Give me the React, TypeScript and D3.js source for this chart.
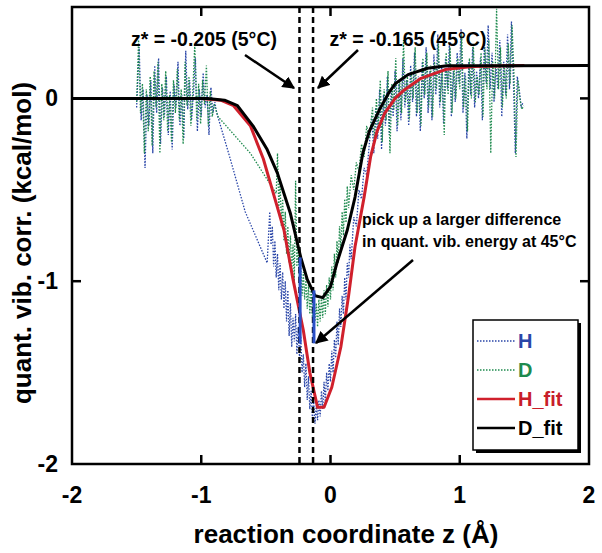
import React from "react";
import * as d3 from "d3";

type P = [number, number];

// reaction coordinate z (Å), quantized vibrational correction (kcal/mol)
const hData: P[] = [
  [-1.5, -0.05], [-1.48, 0.28], [-1.465, -0.12], [-1.45, 0.05], [-1.435, -0.38], [-1.42, 0.02],
  [-1.405, -0.15], [-1.39, 0.1], [-1.375, -0.3], [-1.36, 0.18], [-1.345, -0.08], [-1.33, 0.22],
  [-1.315, -0.25], [-1.3, 0.06], [-1.285, -0.1], [-1.27, 0.12], [-1.255, -0.2], [-1.24, 0.04],
  [-1.225, -0.28], [-1.21, 0.08], [-1.195, -0.05], [-1.18, 0.2], [-1.165, -0.15], [-1.15, 0.02],
  [-1.135, -0.22], [-1.12, 0.26], [-1.105, -0.06], [-1.09, 0.1], [-1.075, -0.12], [-1.06, 0.03],
  [-1.045, 0.22], [-1.03, -0.18], [-1.015, 0.05], [-1.0, -0.1], [-0.985, 0.14], [-0.97, -0.05],
  [-0.955, 0.02], [-0.94, -0.2], [-0.925, 0.06], [-0.91, -0.08], [-0.895, -0.02],
  [-0.88, -0.08], [-0.78, -0.32], [-0.66, -0.62], [-0.49, -0.9],
  [-0.47, -0.62], [-0.46, -0.8], [-0.45, -0.7], [-0.44, -0.92], [-0.43, -0.78], [-0.42, -0.98],
  [-0.41, -0.85], [-0.4, -1.05], [-0.39, -0.9], [-0.38, -1.1], [-0.37, -0.95], [-0.36, -1.15],
  [-0.35, -1.0], [-0.34, -1.22], [-0.33, -1.05], [-0.32, -1.3], [-0.31, -1.12], [-0.3, -1.36],
  [-0.29, -1.2], [-0.28, -1.33], [-0.27, -1.18], [-0.26, -1.4], [-0.25, -1.25], [-0.24, -1.42],
  [-0.23, -1.3], [-0.22, -1.5], [-0.21, -1.4], [-0.2, -1.58], [-0.19, -1.45], [-0.18, -1.65],
  [-0.17, -1.52], [-0.16, -1.7], [-0.15, -1.6], [-0.14, -1.75], [-0.13, -1.66], [-0.12, -1.78],
  [-0.11, -1.68], [-0.1, -1.76], [-0.09, -1.65], [-0.08, -1.74], [-0.07, -1.6], [-0.06, -1.7],
  [-0.05, -1.55], [-0.04, -1.66], [-0.03, -1.5], [-0.02, -1.6], [-0.01, -1.45], [0.0, -1.55],
  [0.01, -1.38], [0.02, -1.5], [0.03, -1.32], [0.04, -1.42], [0.05, -1.22], [0.06, -1.35],
  [0.07, -1.15], [0.08, -1.25], [0.09, -1.08], [0.1, -1.18], [0.11, -0.98], [0.12, -1.1],
  [0.13, -0.9], [0.14, -0.98], [0.15, -0.8], [0.16, -0.88], [0.18, -0.65], [0.2, -0.7],
  [0.22, -0.5], [0.24, -0.55], [0.26, -0.38], [0.28, -0.42], [0.3, -0.25],
  [0.32, -0.1], [0.335, -0.3], [0.35, -0.05], [0.365, -0.22], [0.38, 0.05], [0.395, -0.28],
  [0.41, 0.02], [0.425, -0.15], [0.44, 0.12], [0.455, -0.2], [0.47, 0.05], [0.485, -0.1],
  [0.5, 0.15], [0.515, -0.18], [0.53, 0.08], [0.545, -0.12], [0.56, 0.22], [0.575, -0.05],
  [0.59, 0.1], [0.605, -0.15], [0.62, 0.18], [0.635, -0.02], [0.65, 0.25], [0.665, -0.1],
  [0.68, 0.12], [0.695, -0.18], [0.71, 0.2], [0.725, 0.0], [0.74, 0.28], [0.755, -0.08],
  [0.77, 0.15], [0.785, -0.12], [0.8, 0.24], [0.815, 0.02], [0.83, 0.35], [0.845, -0.05],
  [0.86, 0.18], [0.875, -0.14], [0.89, 0.22], [0.905, 0.05], [0.92, 0.3], [0.935, -0.1],
  [0.95, 0.15], [0.965, -0.02], [0.98, 0.25], [0.995, 0.08], [1.01, 0.38], [1.025, -0.08],
  [1.04, 0.14], [1.055, -0.22], [1.07, 0.2], [1.085, 0.02], [1.1, 0.28], [1.115, -0.05],
  [1.13, 0.15], [1.145, 0.0], [1.16, 0.22], [1.175, -0.12], [1.19, 0.3], [1.205, 0.08],
  [1.22, 0.4], [1.235, 0.05], [1.25, 0.25], [1.265, -0.02], [1.28, 0.18], [1.295, 0.05],
  [1.31, 0.32], [1.325, -0.1], [1.34, 0.2], [1.355, 0.02], [1.37, 0.35], [1.385, 0.05],
  [1.4, 0.42], [1.415, 0.1], [1.43, -0.3], [1.445, 0.12], [1.46, 0.05], [1.475, -0.05], [1.49, -0.02],
];

const dData: P[] = [
  [-1.5, -0.02], [-1.485, 0.32], [-1.47, -0.08], [-1.455, 0.08], [-1.44, -0.3], [-1.425, 0.05],
  [-1.41, -0.18], [-1.395, 0.12], [-1.38, -0.26], [-1.365, 0.15], [-1.35, -0.05], [-1.335, 0.2],
  [-1.32, -0.3], [-1.305, 0.08], [-1.29, -0.12], [-1.275, 0.15], [-1.26, -0.18], [-1.245, 0.02],
  [-1.23, -0.24], [-1.215, 0.1], [-1.2, -0.08], [-1.185, 0.16], [-1.17, -0.12], [-1.155, 0.05],
  [-1.14, -0.25], [-1.125, 0.2], [-1.11, -0.04], [-1.095, 0.12], [-1.08, -0.15], [-1.065, 0.05],
  [-1.05, 0.3], [-1.035, -0.12], [-1.02, 0.08], [-1.005, -0.14], [-0.99, 0.1], [-0.975, -0.03],
  [-0.96, 0.18], [-0.945, -0.15], [-0.93, 0.04], [-0.915, -0.1], [-0.9, -0.03],
  [-0.87, -0.1], [-0.62, -0.3], [-0.42, -0.52],
  [-0.41, -0.3], [-0.4, -0.6], [-0.39, -0.45], [-0.38, -0.7], [-0.37, -0.55], [-0.36, -0.78],
  [-0.35, -0.62], [-0.34, -0.85], [-0.33, -0.7], [-0.32, -0.9], [-0.31, -0.75], [-0.3, -0.95],
  [-0.29, -0.8], [-0.28, -1.0], [-0.27, -0.45], [-0.26, -0.92], [-0.25, -0.82], [-0.24, -1.02],
  [-0.23, -0.9], [-0.22, -1.08], [-0.21, -0.95], [-0.2, -1.1], [-0.19, -0.98], [-0.18, -1.15],
  [-0.17, -1.02], [-0.16, -1.18], [-0.15, -1.05], [-0.14, -1.2], [-0.13, -1.08], [-0.12, -1.22],
  [-0.11, -1.12], [-0.1, -1.25], [-0.09, -1.1], [-0.08, -1.22], [-0.07, -1.08], [-0.06, -1.2],
  [-0.05, -1.05], [-0.04, -1.18], [-0.03, -1.02], [-0.02, -1.14], [-0.01, -0.98], [0.0, -1.1],
  [0.01, -0.92], [0.02, -1.05], [0.03, -0.85], [0.04, -0.98], [0.05, -0.78], [0.06, -0.9],
  [0.07, -0.7], [0.08, -0.82], [0.09, -0.62], [0.1, -0.75], [0.11, -0.55], [0.12, -0.68],
  [0.13, -0.48], [0.14, -0.6], [0.16, -0.42], [0.18, -0.5], [0.2, -0.35], [0.22, -0.4],
  [0.24, -0.25], [0.26, -0.32], [0.28, -0.15], [0.3, -0.22],
  [0.325, -0.05], [0.34, -0.25], [0.355, 0.0], [0.37, -0.18], [0.385, 0.1], [0.4, -0.24],
  [0.415, 0.05], [0.43, -0.12], [0.445, 0.15], [0.46, -0.3], [0.475, 0.08], [0.49, -0.06],
  [0.505, 0.22], [0.52, -0.15], [0.535, 0.1], [0.55, -0.08], [0.565, 0.32], [0.58, -0.02],
  [0.595, 0.12], [0.61, -0.12], [0.625, 0.15], [0.64, 0.0], [0.655, 0.28], [0.67, -0.08],
  [0.685, 0.1], [0.7, -0.15], [0.715, 0.22], [0.73, 0.02], [0.745, 0.25], [0.76, -0.05],
  [0.775, 0.18], [0.79, -0.1], [0.805, 0.2], [0.82, 0.05], [0.835, 0.3], [0.85, -0.02],
  [0.865, 0.15], [0.88, -0.2], [0.895, 0.25], [0.91, 0.02], [0.925, 0.28], [0.94, -0.08],
  [0.955, 0.18], [0.97, 0.0], [0.985, 0.22], [1.0, 0.05], [1.015, 0.35], [1.03, -0.05],
  [1.045, 0.12], [1.06, -0.18], [1.075, 0.22], [1.09, 0.0], [1.105, 0.3], [1.12, -0.02],
  [1.135, 0.12], [1.15, 0.02], [1.165, 0.25], [1.18, -0.1], [1.195, 0.28], [1.21, 0.05],
  [1.225, 0.32], [1.24, -0.3], [1.255, 0.2], [1.27, 0.0], [1.285, 0.49], [1.3, 0.05],
  [1.315, 0.28], [1.33, -0.05], [1.345, 0.18], [1.36, 0.0], [1.375, 0.3], [1.39, 0.08],
  [1.405, 0.4], [1.42, 0.12], [1.435, -0.32], [1.45, 0.1], [1.465, 0.0], [1.48, -0.06], [1.495, -0.04],
];

const hFit: P[] = [
  [-1.5, 0], [-1.0, 0], [-0.85, -0.01], [-0.75, -0.04], [-0.62, -0.15], [-0.52, -0.33],
  [-0.45, -0.5], [-0.36, -0.72], [-0.29, -0.99], [-0.21, -1.27], [-0.16, -1.5], [-0.1, -1.69],
  [-0.05, -1.69], [0.01, -1.58], [0.08, -1.36], [0.14, -1.08], [0.19, -0.81], [0.26, -0.54],
  [0.31, -0.32], [0.36, -0.18], [0.42, -0.08], [0.5, 0.0], [0.56, 0.04], [0.7, 0.11],
  [0.9, 0.16], [1.1, 0.175], [1.5, 0.18],
];

const dFit: P[] = [
  [-2, 0], [-0.95, 0], [-0.82, -0.01], [-0.72, -0.04], [-0.6, -0.15], [-0.49, -0.28],
  [-0.41, -0.41], [-0.36, -0.52], [-0.31, -0.63], [-0.27, -0.75], [-0.23, -0.87], [-0.18, -0.99],
  [-0.12, -1.08], [-0.06, -1.09], [0.0, -1.03], [0.05, -0.9], [0.13, -0.72], [0.19, -0.54],
  [0.25, -0.3], [0.3, -0.18], [0.38, -0.06], [0.45, 0.03], [0.5, 0.08], [0.6, 0.13],
  [0.75, 0.165], [0.9, 0.178], [2, 0.18],
];

const zStarLines = [-0.24, -0.135];
const zStarLabels = ["z* = -0.205 (5°C)", "z* = -0.165 (45°C)"];
// highlighted H difference bars at the two z* positions [z, top, bottom]
const diffBars: [number, number, number][] = [
  [-0.235, -0.87, -1.34],
  [-0.128, -1.05, -1.34],
];

const xTicks = [-2, -1, 0, 1, 2];
const yTicks = [0, -1, -2];

const legendItems = [
  { label: "H", color: "#2a46a8", dash: "1.5,1.5", width: 1.3, text: "#2a46a8" },
  { label: "D", color: "#1e8a4e", dash: "1.5,1.5", width: 1.3, text: "#1e8a4e" },
  { label: "H_fit", color: "#d0202c", dash: "", width: 2.5, text: "#c81e2a" },
  { label: "D_fit", color: "#000", dash: "", width: 2.5, text: "#000" },
];

const FONT = "'Liberation Sans', Arial, Helvetica, sans-serif";

export default function App() {
  const L = 72, R = 589, T = 7, B = 464;
  const x = d3.scaleLinear().domain([-2, 2]).range([L, R]);
  const y = d3.scaleLinear().domain([-2, 0.5]).range([B, T]);
  const line = d3.line<P>().x((d) => x(d[0])).y((d) => y(d[1]));

  const arrows: [number, number, number, number][] = [
    [245, 55, 294, 88],
    [358, 50, 318, 88],
    [413, 260, 316, 343],
  ];

  return (
    <svg width={602} height={553} style={{ position: "absolute", left: 0, top: 0, background: "#fff" }} fontFamily={FONT}>
      <defs>
        <marker id="ah" viewBox="0 0 10 10" refX="9" refY="5" markerWidth="5" markerHeight="5" orient="auto" markerUnits="strokeWidth">
          <path d="M0,0 L10,5 L0,10 z" fill="#000" />
        </marker>
        <clipPath id="plot">
          <rect x={L} y={T} width={R - L} height={B - T} />
        </clipPath>
      </defs>
      <rect x={0} y={0} width={602} height={553} fill="#fff" />
      <g clipPath="url(#plot)">
        <path d={line(hData) || ""} fill="none" stroke="#2a46a8" strokeWidth={1.3} strokeDasharray="1.5,1.5" />
        <path d={line(dData) || ""} fill="none" stroke="#1e8a4e" strokeWidth={1.3} strokeDasharray="1.5,1.5" />
        <path d={line(hFit) || ""} fill="none" stroke="#d0202c" strokeWidth={3} strokeLinejoin="round" />
        <path d={line(dFit) || ""} fill="none" stroke="#000" strokeWidth={3} strokeLinejoin="round" />
        {zStarLines.map((z, i) => (
          <line key={i} x1={x(z)} x2={x(z)} y1={T} y2={B} stroke="#000" strokeWidth={2.5} strokeDasharray="6,4" />
        ))}
        {diffBars.map((b, i) => (
          <line key={i} x1={x(b[0])} x2={x(b[0])} y1={y(b[1])} y2={y(b[2])} stroke="#2a50c8" strokeWidth={3} />
        ))}
      </g>
      {/* frame */}
      <rect x={L} y={T} width={R - L} height={B - T} fill="none" stroke="#000" strokeWidth={2.5} />
      {xTicks.slice(1, -1).map((t) => (
        <g key={t}>
          <line x1={x(t)} x2={x(t)} y1={B} y2={B - 9} stroke="#000" strokeWidth={2.5} />
          <line x1={x(t)} x2={x(t)} y1={T} y2={T + 9} stroke="#000" strokeWidth={2.5} />
        </g>
      ))}
      {yTicks.slice(0, -1).map((t) => (
        <g key={t}>
          <line x1={L} x2={L + 9} y1={y(t)} y2={y(t)} stroke="#000" strokeWidth={2.5} />
          <line x1={R} x2={R - 9} y1={y(t)} y2={y(t)} stroke="#000" strokeWidth={2.5} />
        </g>
      ))}
      {xTicks.map((t) => (
        <text key={t} x={x(t)} y={503} textAnchor="middle" fontSize={23} fontWeight="bold">
          {t}
        </text>
      ))}
      {yTicks.map((t) => (
        <text key={t} x={58} y={y(t) + 8} textAnchor="end" fontSize={23} fontWeight="bold">
          {t}
        </text>
      ))}
      <text x={346} y={543} textAnchor="middle" fontSize={26} fontWeight="bold">
        reaction coordinate z (Å)
      </text>
      <text transform="translate(31,243) rotate(-90)" textAnchor="middle" fontSize={26} fontWeight="bold">
        quant. vib. corr. (kcal/mol)
      </text>
      {/* annotations */}
      <text x={204} y={46} textAnchor="middle" fontSize={19.5} fontWeight="bold">{zStarLabels[0]}</text>
      <text x={408} y={46} textAnchor="middle" fontSize={19.5} fontWeight="bold">{zStarLabels[1]}</text>
      <text x={362} y={225} fontSize={16} fontWeight="bold">pick up a larger difference</text>
      <text x={362} y={247} fontSize={16} fontWeight="bold">in quant. vib. energy at 45°C</text>
      {arrows.map((a, i) => (
        <line key={i} x1={a[0]} y1={a[1]} x2={a[2]} y2={a[3]} stroke="#000" strokeWidth={2.5} markerEnd="url(#ah)" />
      ))}
      {/* legend */}
      <rect x={476} y={323} width={105} height={130} fill="#000" />
      <rect x={473} y={320} width={105} height={130} fill="#fff" stroke="#000" strokeWidth={1.5} />
      {legendItems.map((it, i) => {
        const cy = 341 + i * 29;
        return (
          <g key={it.label}>
            <line x1={477} x2={515} y1={cy} y2={cy} stroke={it.color} strokeWidth={it.width} strokeDasharray={it.dash || undefined} />
            <text x={518} y={cy + 7} fontSize={20} fontWeight="bold" fill={it.text}>{it.label}</text>
          </g>
        );
      })}
    </svg>
  );
}
